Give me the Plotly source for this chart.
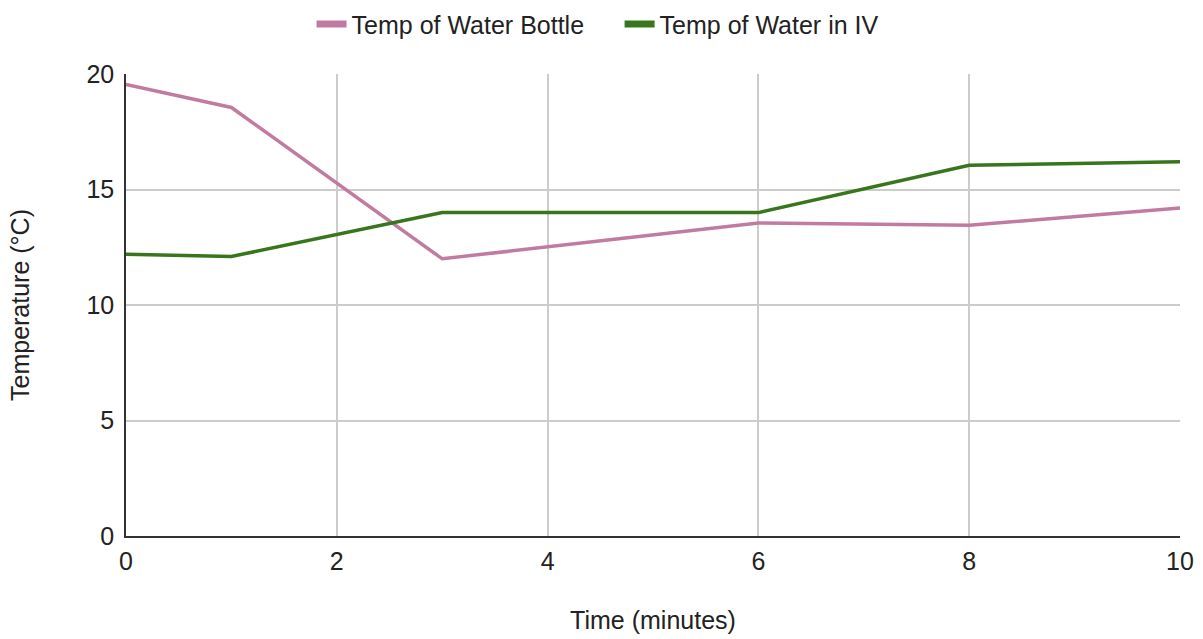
import plotly.graph_objects as go

time_min = [0, 1, 3, 6, 8, 10]
bottle_temp = [19.55, 18.55, 12.0, 13.55, 13.45, 14.2]
iv_temp = [12.2, 12.1, 14.0, 14.0, 16.05, 16.2]

names = ["Temp of Water Bottle", "Temp of Water in IV"]
colors = ["#c27ba0", "#38761d"]

fig = go.Figure()
for name, ys, c in zip(names, [bottle_temp, iv_temp], colors):
    fig.add_trace(go.Scatter(x=time_min, y=ys, mode="lines", name=name, showlegend=False,
                             line=dict(color=c, width=3.5)))
for name, c in zip(names, colors):
    fig.add_trace(go.Scatter(x=[None], y=[None], mode="lines", name=name, showlegend=True,
                             line=dict(color=c, width=7)))

txt = "#222222"
fam = "Liberation Sans, Arial, sans-serif"
fs = 25
fig.update_layout(
    width=1203, height=639,
    margin=dict(l=126, r=23, t=74, b=103),
    paper_bgcolor="white", plot_bgcolor="white",
    font=dict(family=fam, size=fs, color=txt),
    legend=dict(orientation="h", xref="container", x=0.259, xanchor="left",
                y=0.998, yanchor="top", yref="container",
                font=dict(size=fs, color=txt), itemwidth=30,
                entrywidth=263, entrywidthmode="pixels", traceorder="normal"),
    xaxis=dict(range=[0, 10], tickvals=[0, 2, 4, 6, 8, 10], showgrid=True, gridcolor="#cccccc",
               gridwidth=1.5, zeroline=False, showline=True, linecolor="#333333", linewidth=1.5,
               ticks="", tickfont=dict(size=fs, color=txt), ticklabelstandoff=2, automargin=False,
               title=dict(text="Time (minutes)", font=dict(size=fs, color=txt), standoff=38)),
    yaxis=dict(range=[0, 20], tickvals=[0, 5, 10, 15, 20], showgrid=True, gridcolor="#cccccc",
               gridwidth=1.5, zeroline=False, showline=True, linecolor="#333333", linewidth=1.5,
               ticks="", tickfont=dict(size=fs, color=txt), ticklabelstandoff=5, automargin=False,
               title=dict(text="Temperature (°C)", font=dict(size=fs, color=txt), standoff=50)),
)
fig.write_html("out.html")
